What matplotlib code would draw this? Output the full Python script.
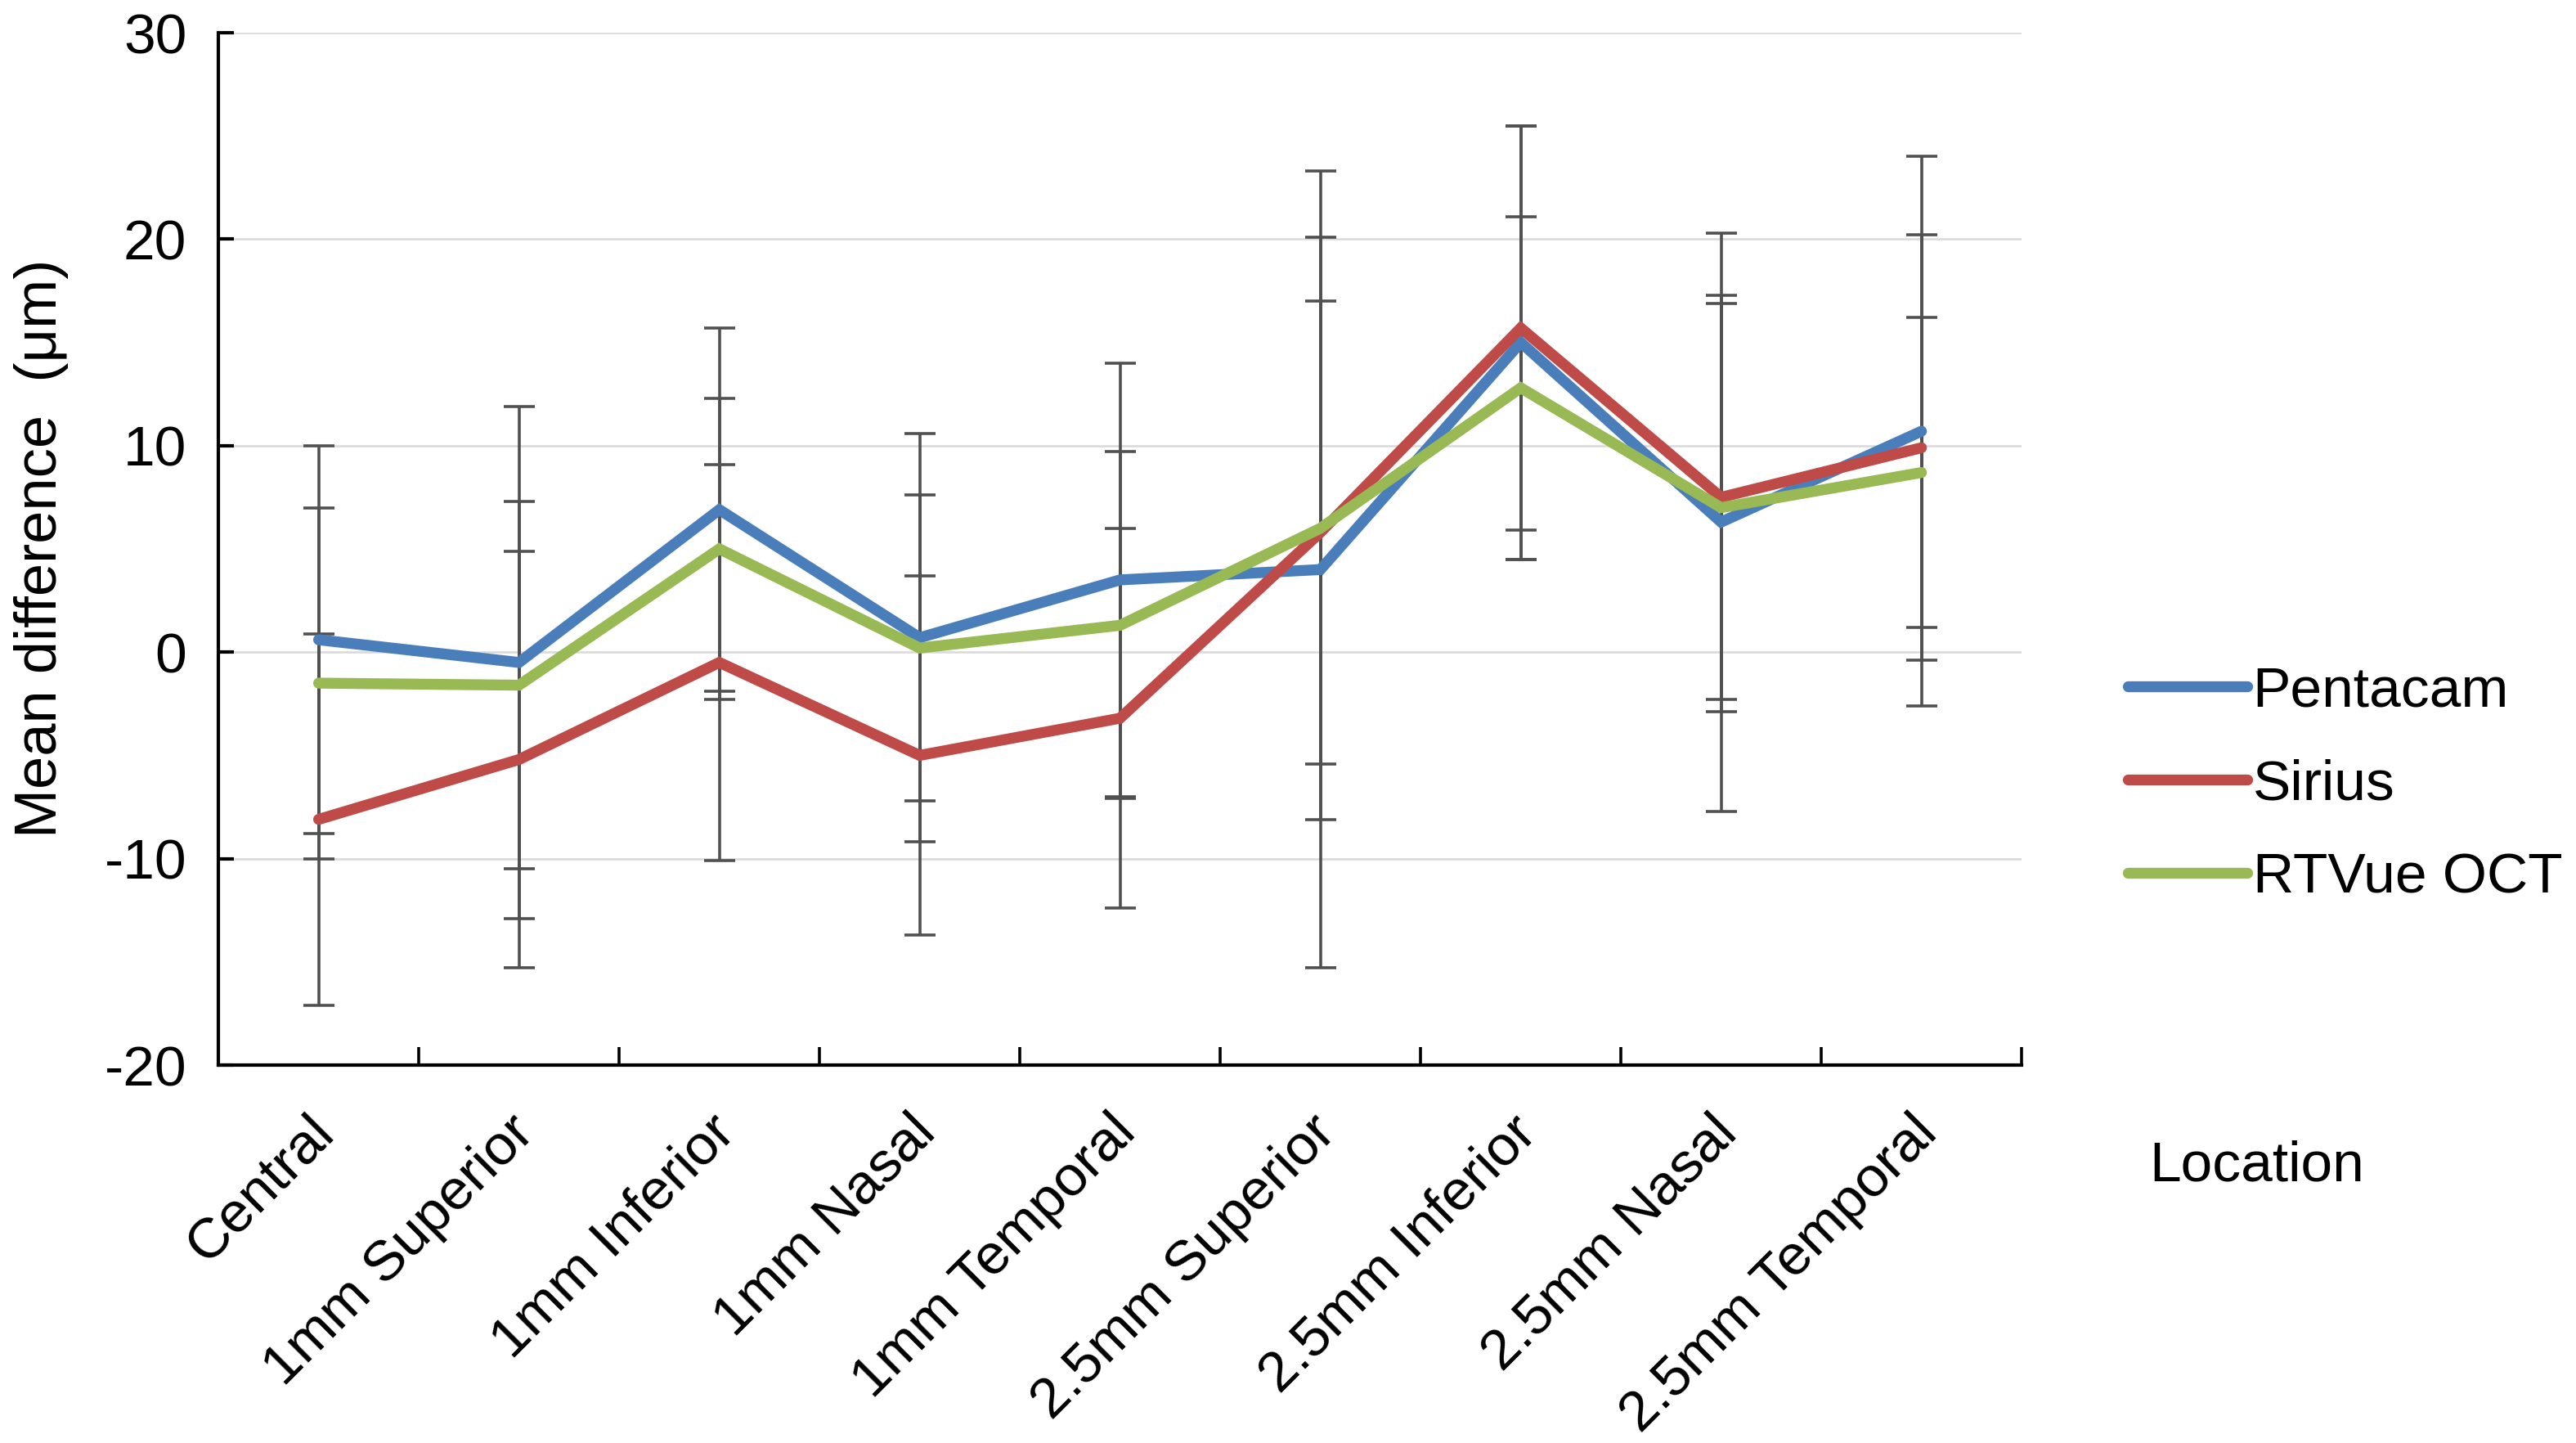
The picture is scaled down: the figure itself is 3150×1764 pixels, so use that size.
import numpy as np
import matplotlib
matplotlib.use("Agg")
import matplotlib.pyplot as plt
import matplotlib.transforms as mtransforms

plt.rcParams["font.family"] = ["Liberation Sans", "DejaVu Sans"]
plt.rcParams["axes.unicode_minus"] = False

# --- data ---
locations = ["Central", "1mm Superior", "1mm Inferior", "1mm Nasal", "1mm Temporal",
             "2.5mm Superior", "2.5mm Inferior", "2.5mm Nasal", "2.5mm Temporal"]

pentacam_mean = [0.6, -0.5, 6.9, 0.7, 3.5, 4.0, 15.0, 6.3, 10.7]
pentacam_sd = [9.4, 12.4, 8.8, 9.9, 10.5, 19.3, 10.5, 14.0, 13.3]

sirius_mean = [-8.1, -5.2, -0.5, -5.0, -3.2, 5.8, 15.7, 7.5, 9.9]
sirius_sd = [9.0, 10.1, 9.6, 8.7, 9.2, 11.2, 9.8, 9.8, 10.3]

rtvue_mean = [-1.5, -1.6, 5.0, 0.2, 1.3, 6.0, 12.8, 7.0, 8.7]
rtvue_sd = [8.5, 8.9, 7.3, 7.4, 8.4, 14.1, 8.3, 9.9, 7.5]

series = [
    ("Pentacam", pentacam_mean, pentacam_sd, "#4A7EBB"),
    ("Sirius", sirius_mean, sirius_sd, "#BE4B48"),
    ("RTVue OCT", rtvue_mean, rtvue_sd, "#98B954"),
]

FS = 25

fig = plt.figure(figsize=(15.75, 8.82), dpi=200)
ax = fig.add_axes([0.0848, 0.2619, 0.70, 0.7154])

x = np.arange(len(locations))
for name, mean, sd, color in series:
    ax.errorbar(x, mean, yerr=sd, fmt="none", ecolor="#505050", elinewidth=1.3,
                capsize=7, capthick=1.3, zorder=2)
for name, mean, sd, color in series:
    ax.plot(x, mean, color=color, linewidth=4.8, label=name, zorder=3,
            solid_capstyle="round", solid_joinstyle="miter")

ax.set_xlim(-0.5, len(locations) - 0.5)
ax.set_ylim(-20, 30)
ax.set_yticks([-20, -10, 0, 10, 20, 30])
ax.yaxis.grid(True, color="#D9D9D9", linewidth=0.9)
ax.set_axisbelow(True)

for s in ["top", "right"]:
    ax.spines[s].set_visible(False)
for s in ["left", "bottom"]:
    ax.spines[s].set_linewidth(1.5)
    ax.spines[s].set_color("black")

ax.tick_params(axis="y", direction="in", length=7, width=1.5, labelsize=FS, pad=14)

# category labels at centres, tick marks between categories (Excel style)
ax.set_xticks(x)
ax.set_xticklabels(locations, rotation=45, ha="right", va="top",
                   rotation_mode="anchor", fontsize=FS)
ax.tick_params(axis="x", which="major", length=0, pad=18)
shift = mtransforms.ScaledTranslation(-5 / 72, 0, fig.dpi_scale_trans)
for lbl in ax.get_xticklabels():
    lbl.set_transform(lbl.get_transform() + shift)
ax.set_xticks(np.arange(-0.5, len(locations), 1.0), minor=True)
ax.tick_params(axis="x", which="minor", direction="in", length=8, width=1.3)

fig.text(0.016, 0.62, "Mean difference  (\u03bcm)", rotation=90, va="center",
         ha="center", fontsize=FS + 1)
fig.text(0.876, 0.192, "Location", ha="center", va="center", fontsize=FS)

leg = ax.legend(loc="center left", bbox_to_anchor=(0.815, 0.456),
                bbox_transform=fig.transFigure, frameon=False, fontsize=FS,
                handlelength=2.1, handletextpad=0.1, labelspacing=0.72,
                borderpad=0)

fig.savefig("out.png", dpi=200, facecolor="white")
